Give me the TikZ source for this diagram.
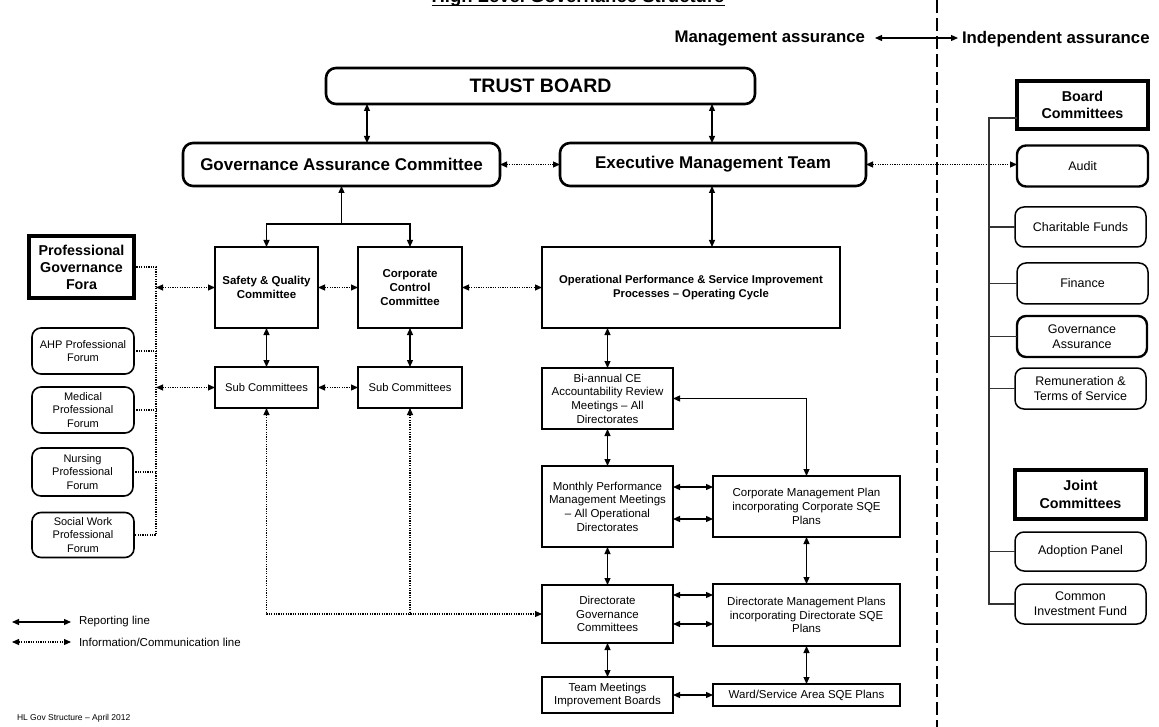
\documentclass[tikz,border=0pt]{standalone}
\usepackage{fontspec}
\setmainfont{Liberation Sans}
\usetikzlibrary{arrows.meta}
\newcommand\fsz[2]{\fontsize{#1}{#2}\selectfont}
\begin{document}
\begin{tikzpicture}[x=1pt,y=-1pt,
  every node/.style={inner sep=0pt, outer sep=0pt, align=center},
  bigbox/.style={draw, rounded corners=10pt, line width=2.6pt, font=\fsz{17}{20}\bfseries},
  rthick/.style={draw, rounded corners=9pt, line width=2.4pt, font=\fsz{12.5}{15}},
  rthin/.style={draw, rounded corners=9pt, line width=1.5pt, font=\fsz{12.5}{15}},
  forum/.style={draw, rounded corners=9pt, line width=1.6pt, font=\fsz{11}{13.4}},
  sqbox/.style={draw, line width=1.7pt, font=\fsz{11.5}{13.7}},
  headbox/.style={draw, line width=3.2pt, font=\fsz{14.3}{17}\bfseries},
  tip/.tip={Triangle[length=7pt,width=6pt]},
  rep/.style={tip-tip, line width=1.2pt},
  one/.style={-tip, line width=1.2pt},
  info/.style={tip-tip, line width=1.1pt, dash pattern=on 1.2pt off 1.2pt},
  infoin/.style={tip-, line width=1.1pt, dash pattern=on 1.2pt off 1.2pt},
  dotln/.style={line width=1.1pt, dash pattern=on 1.2pt off 1.2pt},
  treeln/.style={line width=1.3pt, black!80},
  divider/.style={line width=1.4pt, dash pattern=on 13pt off 5pt}
]
\fill[white] (0,0) rectangle (1159,727);
\useasboundingbox (0,0) rectangle (1159,727);

% title and headings
\node[font=\fsz{18.5}{22}\bfseries, anchor=base] (title) at (578,3) {High Level Governance Structure};
\draw[line width=1.4pt] ([yshift=-2.5pt]title.base west) -- ([yshift=-2.5pt]title.base east);
\node[font=\fsz{16.8}{20}\bfseries, anchor=east] (ma) at (865,39) {Management assurance};
\node[font=\fsz{16.8}{20}\bfseries, anchor=west] (ia) at (962,39) {Independent assurance};
\draw[rep] ([xshift=10pt,yshift=1pt]ma.east) -- ([xshift=-4pt,yshift=1pt]ia.west);

\coordinate (dtop) at (937,0);
\coordinate (dbot) at (937,727);
\draw[divider] (dtop) -- (dbot);

% main column
\node[bigbox, font=\fsz{19.5}{22}\bfseries, minimum width=429pt, minimum height=36pt] (tb) at (540.5,86) {TRUST BOARD};
\node[bigbox, minimum width=317pt, minimum height=43pt] (gac) at (341.5,164.5) {Governance Assurance Committee};
\node[bigbox, minimum width=306pt, minimum height=43pt] (emt) at (713,164.5) {Executive Management Team};

\node[sqbox, font=\fsz{11.5}{13.7}\bfseries, minimum width=103pt, minimum height=81pt] (sq) at (266.5,287.5) {Safety \& Quality\\Committee};
\node[sqbox, font=\fsz{11.5}{13.7}\bfseries, minimum width=104pt, minimum height=81pt] (ccc) at (410,287.5) {Corporate\\Control\\Committee};
\node[sqbox, font=\fsz{11.3}{14}\bfseries, minimum width=298pt, minimum height=81pt] (ops) at (691,287.5) {Operational Performance \& Service Improvement\\Processes – Operating Cycle};

\node[sqbox, font=\fsz{11.2}{13.5}, minimum width=103pt, minimum height=41pt] (sub1) at (266.5,387.5) {Sub Committees};
\node[sqbox, font=\fsz{11.2}{13.5}, minimum width=104pt, minimum height=41pt] (sub2) at (410,387.5) {Sub Committees};

\node[sqbox, minimum width=131pt, minimum height=61pt] (bia) at (607.5,398.5) {Bi-annual CE\\Accountability Review\\Meetings – All\\Directorates};
\node[sqbox, minimum width=131pt, minimum height=81pt] (mon) at (607.5,506.5) {Monthly Performance\\Management Meetings\\– All Operational\\Directorates};
\node[sqbox, minimum width=131pt, minimum height=58pt] (dg) at (607.5,614) {Directorate\\Governance\\Committees};
\node[sqbox, minimum width=131pt, minimum height=36pt] (team) at (607.5,695) {Team Meetings\\Improvement Boards};

\node[sqbox, minimum width=187pt, minimum height=61pt] (cmp) at (806.5,506.5) {Corporate Management Plan\\incorporating Corporate SQE\\Plans};
\node[sqbox, minimum width=187pt, minimum height=62pt] (dmp) at (806.5,615) {Directorate Management Plans\\incorporating Directorate SQE\\Plans};
\node[sqbox, minimum width=187pt, minimum height=22pt] (ward) at (806.5,695) {Ward/Service Area SQE Plans};

% left column
\node[headbox, minimum width=105pt, minimum height=62pt] (pgf) at (81.5,267) {Professional\\Governance\\Fora};
\node[forum, minimum width=102pt, minimum height=46pt] (ahp) at (83,351) {AHP Professional\\Forum};
\node[forum, minimum width=102pt, minimum height=46pt] (med) at (83,410) {Medical\\Professional\\Forum};
\node[forum, minimum width=101pt, minimum height=48pt] (nur) at (82.5,472) {Nursing\\Professional\\Forum};
\node[forum, minimum width=102pt, minimum height=45pt] (soc) at (83,535) {Social Work\\Professional\\Forum};

% right column
\node[headbox, minimum width=131pt, minimum height=48pt] (bc) at (1082.5,105) {Board\\Committees};
\node[rthick, minimum width=131pt, minimum height=41pt] (aud) at (1082.5,166) {Audit};
\node[rthin, minimum width=131pt, minimum height=40pt] (cf) at (1080.5,227) {Charitable Funds};
\node[rthin, minimum width=131pt, minimum height=41pt] (fin) at (1082.5,283.5) {Finance};
\node[rthick, minimum width=130pt, minimum height=41pt] (ga) at (1082,336.5) {Governance\\Assurance};
\node[rthin, minimum width=131pt, minimum height=41pt] (rem) at (1080.5,388.5) {Remuneration \&\\Terms of Service};
\node[headbox, minimum width=131pt, minimum height=49pt, font=\fsz{14.3}{18}\bfseries] (jc) at (1080.5,494.5) {Joint\\Committees};
\node[rthin, minimum width=131pt, minimum height=39pt] (adp) at (1080.5,551.5) {Adoption Panel};
\node[rthin, minimum width=131pt, minimum height=40pt] (cif) at (1080.5,604) {Common\\Investment Fund};

% helper coordinates
\coordinate (c367) at (367,0);
\coordinate (c712) at (712,0);
\coordinate (jn) at (341.5,224);
\coordinate (xv) at (156,0);
\coordinate (y487) at (0,487);
\coordinate (y519) at (0,519);
\coordinate (y595) at (0,595);
\coordinate (y624) at (0,624);
\coordinate (xt) at (989,0);
\coordinate (t118) at (989,118);

% top connectors
\draw[rep] (tb.south -| c367) -- (gac.north -| c367);
\draw[rep] (tb.south -| c712) -- (emt.north -| c712);
\draw[info] (gac.east) -- (emt.west);
\draw[info] (emt.east) -- (emt.east -| aud.west);
\draw[one] (jn) -- (gac.south);
\draw[one] (jn) -| (sq.north);
\draw[one] (jn) -| (ccc.north);
\draw[rep] (emt.south -| c712) -- (ops.north -| c712);

% committees
\draw[info] (sq.east) -- (ccc.west);
\draw[info] (ccc.east) -- (ops.west);
\draw[rep] (sq.south) -- (sub1.north);
\draw[rep] (ccc.south) -- (sub2.north);
\draw[info] (sub1.east) -- (sub2.west);
\draw[info] (sub1.south) |- (dg.west);
\draw[infoin] (sub2.south) -- (sub2.south |- dg.west);

% professional fora
\draw[dotln] (pgf.east) -- (pgf.east -| xv) -- (soc.east -| xv) -- (soc.east);
\draw[dotln] (ahp.east) -- (ahp.east -| xv);
\draw[dotln] (med.east) -- (med.east -| xv);
\draw[dotln] (nur.east) -- (nur.east -| xv);
\draw[info] (sq.west -| xv) -- (sq.west);
\draw[info] (sub1.west -| xv) -- (sub1.west);

% operating cycle
\draw[rep] (ops.south -| bia.north) -- (bia.north);
\draw[rep] (bia.south) -- (mon.north);
\draw[rep] (mon.south) -- (dg.north);
\draw[rep] (dg.south) -- (team.north);
\draw[rep] (bia.east) -| (cmp.north);
\draw[rep] (mon.east |- y487) -- (cmp.west |- y487);
\draw[rep] (mon.east |- y519) -- (cmp.west |- y519);
\draw[rep] (dg.east |- y595) -- (dmp.west |- y595);
\draw[rep] (dg.east |- y624) -- (dmp.west |- y624);
\draw[rep] (team.east) -- (ward.west);
\draw[rep] (cmp.south) -- (dmp.north);
\draw[rep] (dmp.south) -- (ward.north);

% committee tree
\draw[treeln] (t118 -| bc.west) -- (t118) -- (cif.west -| xt) -- (cif.west);
\draw[treeln] (cf.west -| xt) -- (cf.west);
\draw[treeln] (fin.west -| xt) -- (fin.west);
\draw[treeln] (ga.west -| xt) -- (ga.west);
\draw[treeln] (rem.west -| xt) -- (rem.west);
\draw[treeln] (adp.west -| xt) -- (adp.west);

% legend
\coordinate (l1) at (12,622);
\coordinate (l2) at (12,642);
\node[anchor=west, font=\fsz{11.5}{14}] (lg1) at (79,622) {Reporting line};
\node[anchor=west, font=\fsz{11.5}{14}] (lg2) at (79,642) {Information/Communication line};
\draw[rep, shorten >=8pt] (l1) -- (lg1.west);
\draw[info, shorten >=8pt] (l2) -- (lg2.west);

\node[anchor=west, font=\fsz{8.5}{10}] (foot) at (17,718) {HL Gov Structure – April 2012};
\end{tikzpicture}
\end{document}
